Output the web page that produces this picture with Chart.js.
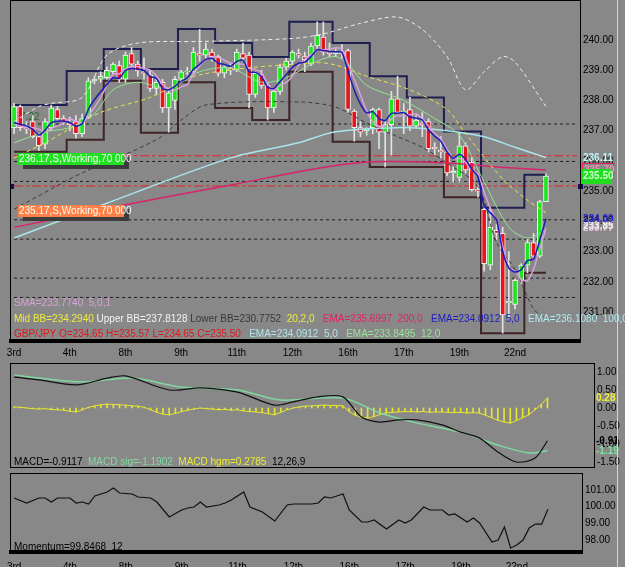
<!DOCTYPE html>
<html lang="en">
<head>
<meta charset="UTF-8">
<title>GBP/JPY</title>
<script src="https://cdn.jsdelivr.net/npm/chart.js"></script>
<style>
  body { margin: 0; background: #888888; }
  #wrap { position: relative; width: 625px; height: 567px; overflow: hidden; background: #888888; }
  canvas { position: absolute; left: 0; }
  #edge { position: absolute; left: 617px; top: 0; width: 1px; height: 567px; background: #d4d4d4; }
</style>
</head>
<body>
<div id="wrap">
  <canvas id="priceChart" width="625" height="360" style="top:0"></canvas>
  <canvas id="macdChart" width="625" height="108" style="top:362px"></canvas>
  <canvas id="momChart" width="625" height="95" style="top:472px"></canvas>
  <div id="edge"></div>
</div>
<script>
  // x axis day labels and where they sit (candle index)
  const dayTicks = ['3rd', '4th', '8th', '9th', '11th', '12th', '16th', '17th', '19th', '22nd'];
  const dayTickAt = [0, 9, 18, 27, 36, 45, 54, 63, 72, 81];

  // GBP/JPY candles
  const opens = [237.1, 237.8, 237.1, 237.3, 236.8, 236.55, 237.1, 237.7, 237.4, 237.25,
    237.3, 236.9, 237.45, 238.65, 238.7, 238.75, 238.95, 239.15, 238.7, 239.55,
    239.2, 238.95, 238.85, 238.4, 238.6, 237.75, 238.0, 238.7, 238.95, 238.95,
    239.55, 239.5, 239.6, 239.45, 238.9, 239.05, 239.0, 239.55, 239.5, 238.2,
    238.85, 238.5, 237.75, 238.3, 239.1, 239.3, 239.55, 239.45, 239.2, 239.8,
    240.1, 239.6, 239.55, 239.6, 239.65, 237.65, 237.1, 237.0, 237.1, 237.7,
    236.95, 237.2, 238.05, 237.6, 237.7, 237.15, 237.25, 237.3, 236.45, 236.35,
    236.3, 235.6, 235.45, 236.5, 235.95, 235.05, 234.4, 232.55, 233.7, 233.6,
    231.3, 231.25, 232.05, 232.55, 233.3, 232.85, 234.65];
  const highs = [237.9, 237.85, 237.3, 237.5, 236.9, 237.4, 237.85, 237.8, 237.5, 237.45,
    237.5, 237.55, 238.75, 238.8, 238.95, 239.1, 239.25, 239.3, 239.6, 239.75,
    239.3, 239.4, 239.0, 238.75, 238.7, 238.35, 238.8, 239.0, 239.1, 239.75,
    240.35, 239.9, 239.7, 239.5, 239.2, 239.2, 239.7, 239.9, 239.6, 238.95,
    239.0, 238.6, 238.4, 239.2, 239.4, 239.65, 239.7, 239.6, 239.9, 240.6,
    240.6, 239.9, 239.7, 239.85, 239.7, 237.7, 237.3, 237.1, 237.75, 237.75,
    237.3, 238.3, 238.8, 237.9, 238.1, 237.5, 237.6, 237.4, 236.6, 236.8,
    236.35, 235.8, 236.95, 236.6, 236.1, 235.2, 234.45, 234.45, 233.9, 233.8,
    233.0, 232.1, 232.6, 233.4, 233.6, 234.7, 235.57];
  const lows = [236.9, 237.0, 236.9, 236.75, 236.35, 236.4, 237.0, 237.3, 237.2, 237.0,
    236.75, 236.8, 237.4, 238.55, 238.6, 238.7, 238.85, 238.6, 238.6, 239.1,
    238.8, 238.7, 238.3, 238.2, 237.6, 236.95, 237.7, 238.6, 238.85, 238.9,
    239.3, 239.4, 239.3, 238.8, 238.75, 238.85, 238.95, 239.3, 237.75, 238.1,
    238.4, 237.35, 237.6, 238.2, 239.0, 239.2, 239.4, 238.95, 239.15, 239.7,
    239.5, 239.45, 239.45, 239.4, 237.6, 236.65, 236.8, 236.85, 236.9, 236.4,
    235.8, 236.2, 237.6, 236.9, 237.0, 237.1, 236.8, 236.3, 236.2, 236.1,
    235.5, 235.3, 235.3, 235.6, 235.0, 234.8, 232.35, 232.4, 233.4, 230.3,
    230.8, 231.1, 231.95, 232.3, 232.8, 232.8, 234.65];
  const closes = [237.8, 237.1, 237.05, 236.8, 236.5, 237.3, 237.75, 237.4, 237.3, 237.2,
    236.9, 237.4, 238.65, 238.7, 238.8, 239.0, 239.2, 238.7, 239.5, 239.2,
    238.98, 238.9, 238.4, 238.6, 237.75, 238.25, 238.7, 238.95, 238.97, 239.6,
    239.5, 239.7, 239.45, 238.9, 239.1, 239.0, 239.6, 239.4, 238.2, 238.9,
    238.5, 237.75, 238.3, 239.1, 239.3, 239.6, 239.5, 239.35, 239.8, 240.15,
    239.6, 239.55, 239.6, 239.55, 237.7, 237.1, 236.95, 237.05, 237.7, 236.95,
    237.2, 238.05, 237.6, 237.65, 237.15, 237.35, 237.2, 236.4, 236.4, 236.3,
    235.6, 235.65, 236.5, 235.7, 235.05, 235.0, 232.6, 233.8, 233.6, 230.9,
    231.35, 232.05, 232.55, 233.3, 232.85, 234.65, 235.5];

  // indicators
  const ema5 = [237.27, 237.21, 237.16, 237.04, 236.86, 237.01, 237.26, 237.31, 237.31, 237.27,
    237.15, 237.23, 237.7, 238.03, 238.29, 238.53, 238.75, 238.73, 238.99, 239.06,
    239.03, 238.99, 238.79, 238.73, 238.4, 238.35, 238.47, 238.63, 238.74, 239.03,
    239.19, 239.36, 239.39, 239.23, 239.19, 239.13, 239.29, 239.33, 238.95, 238.93,
    238.79, 238.44, 238.39, 238.63, 238.85, 239.1, 239.23, 239.27, 239.45, 239.68,
    239.65, 239.62, 239.61, 239.59, 238.96, 238.34, 237.88, 237.59, 237.63, 237.4,
    237.33, 237.57, 237.58, 237.6, 237.45, 237.42, 237.35, 237.03, 236.82, 236.65,
    236.3, 236.08, 236.22, 236.05, 235.72, 235.48, 234.52, 234.28, 234.05, 233.0,
    232.45, 232.32, 232.4, 232.7, 232.75, 233.38, 234.09];
  const sma5 = [237.2, 237.15, 237.1, 237.1, 237.05, 236.95, 237.08, 237.15, 237.25, 237.39,
    237.31, 237.24, 237.49, 237.77, 238.09, 238.51, 238.87, 238.88, 239.04, 239.12,
    239.12, 239.06, 239.0, 238.82, 238.53, 238.38, 238.34, 238.45, 238.52, 238.89,
    239.14, 239.34, 239.44, 239.43, 239.33, 239.23, 239.21, 239.2, 239.06, 239.02,
    238.92, 238.55, 238.33, 238.51, 238.59, 238.81, 239.16, 239.37, 239.51, 239.68,
    239.68, 239.69, 239.74, 239.69, 239.2, 238.7, 238.18, 237.66, 237.29, 237.14,
    237.16, 237.38, 237.5, 237.49, 237.53, 237.56, 237.39, 237.15, 236.9, 236.73,
    236.38, 236.07, 236.09, 235.95, 235.7, 235.58, 234.97, 234.43, 234.01, 233.18,
    232.45, 232.34, 232.09, 232.03, 232.42, 233.08, 233.77];
  const ema12Pts = [[0, 236.6], [5, 236.96], [9, 237.1], [13, 237.57], [16, 238.35], [20, 238.6],
    [25, 238.4], [30, 238.95], [35, 239.07], [40, 238.6], [44, 238.75], [49, 239.3], [52, 239.45],
    [54, 239.2], [57, 238.5], [63, 238.0], [68, 237.4], [72, 236.85], [76, 235.3], [80, 233.8],
    [83, 233.45], [86, 233.7]];
  const midBBPts = [[0, 236.1], [5, 236.6], [14, 237.6], [22, 238.1], [30, 238.85], [49, 239.25],
    [52, 239.17], [57, 238.8], [64, 238.35], [70, 237.7], [73, 236.9], [79, 235.4], [83, 234.7],
    [86, 234.29]];
  const upperBBPts = [[0, 237.3], [4, 237.8], [6, 237.9], [11, 238.1], [15, 239.5], [20, 239.9],
    [30, 239.95], [45, 240.05], [50, 240.2], [56, 240.55], [62, 240.76], [66, 240.35], [70, 239.45],
    [73, 238.35], [76, 238.95], [79, 239.45], [81, 239.27], [86, 237.8]];
  const lowerBBPts = [[0, 234.4], [9, 235.4], [11, 235.6], [23, 236.7], [27, 237.35], [31, 237.85],
    [46, 237.95], [52, 237.78], [57, 237.25], [62, 236.8], [66, 236.45], [70, 235.93], [75, 235.15],
    [78, 233.3], [81, 232.4], [84, 231.1], [86, 230.78]];
  const ema100Pts = [[0, 233.45], [15, 234.6], [35, 236.1], [46, 236.6], [52, 236.96], [62, 237.1],
    [70, 237.0], [76, 236.8], [81, 236.45], [86, 236.11]];
  const ema200Pts = [[0, 233.8], [18, 234.55], [35, 235.2], [49, 235.75], [58, 235.97], [70, 235.93],
    [78, 235.8], [86, 235.7]];

  // high / low boxes: [from, to, level]
  const highBoxes = [[0, 8, 237.85], [9, 14, 238.97], [15, 20, 239.7], [21, 26, 239.04], [27, 32, 240.36],
    [33, 38, 239.9], [39, 44, 239.44], [45, 51, 240.6], [52, 57, 239.9], [58, 63, 238.8], [64, 69, 238.1],
    [70, 75, 236.97], [76, 82, 234.45], [83, 86, 235.54]];
  const lowBoxes = [[0, 8, 236.3], [9, 14, 236.7], [15, 20, 238.65], [21, 26, 236.93], [27, 32, 238.6],
    [33, 38, 237.75], [39, 44, 237.35], [45, 51, 238.95], [52, 57, 236.63], [58, 69, 235.8],
    [70, 75, 234.8], [76, 82, 230.3], [83, 86, 232.3]];

  const blackLevels = [237.22, 235.98, 235.32, 234.05, 233.41, 232.12, 231.48];
  const orderLevels = [236.17, 235.17];
  const priceTicks = [231, 232, 233, 234, 235, 236, 237, 238, 239, 240];

  // MACD panel
  const macdPts = [[0, 0.86], [4, 0.78], [10, 0.64], [15, 0.83], [18, 0.89], [25, 0.5], [30, 0.56],
    [36, 0.44], [42, 0.08], [45, 0.17], [49, 0.31], [53, 0.31], [56, -0.25], [59, -0.39], [62, -0.33],
    [65, -0.33], [69, -0.47], [72, -0.67], [75, -0.83], [78, -1.22], [81, -1.5], [84, -1.39], [86, -0.91]];
  const signalPts = [[0, 0.92], [4, 0.83], [11, 0.72], [19, 0.83], [27, 0.58], [36, 0.5], [43, 0.22],
    [53, 0.28], [59, -0.14], [65, -0.42], [72, -0.67], [78, -1.03], [83, -1.25], [86, -1.19]];
  const histogram = [0.03, 0.02, 0.0, -0.02, -0.03, -0.02, -0.04, -0.05, -0.06, -0.09,
    -0.11, -0.05, 0.02, 0.06, 0.09, 0.11, 0.1, 0.09, 0.08, 0.06,
    0.05, 0.02, -0.05, -0.12, -0.17, -0.19, -0.15, -0.1, -0.06, -0.03,
    0.0, -0.02, -0.03, -0.05, -0.04, -0.06, -0.05, -0.08, -0.1, -0.11,
    -0.13, -0.16, -0.19, -0.12, -0.05, 0.0, 0.03, 0.05, 0.06, 0.07,
    0.08, 0.07, 0.07, 0.06, -0.1, -0.2, -0.26, -0.28, -0.24, -0.18,
    -0.14, -0.12, -0.11, -0.1, -0.1, -0.11, -0.1, -0.12, -0.11, -0.11,
    -0.12, -0.13, -0.12, -0.14, -0.13, -0.14, -0.2, -0.27, -0.34, -0.39,
    -0.42, -0.35, -0.27, -0.19, -0.05, 0.1, 0.28];
  const macdTicks = [1, 0.5, 0, -0.5, -1, -1.5];

  // Momentum panel
  const momentumPts = [[0, 100.52], [2, 100.22], [4, 100.52], [5, 100.52], [6, 100.28], [7, 100.52],
    [9, 100.52], [10, 100.22], [11, 100.28], [12, 100.16], [13, 100.64], [15, 100.88], [16, 101.12],
    [17, 100.82], [19, 100.76], [20, 100.58], [22, 100.52], [23, 100.28], [25, 99.38], [27, 99.8],
    [28, 99.92], [29, 99.98], [30, 100.28], [31, 99.98], [33, 100.1], [34, 100.22], [35, 100.4],
    [37, 100.88], [38, 99.98], [40, 99.68], [42, 99.14], [44, 100.1], [45, 100.16], [48, 100.16],
    [49, 100.22], [50, 100.58], [51, 100.52], [53, 100.76], [54, 99.8], [56, 99.08], [57, 99.08],
    [58, 99.2], [60, 98.66], [62, 99.2], [63, 99.02], [64, 99.2], [66, 99.98], [67, 99.8], [69, 99.8],
    [70, 99.5], [71, 99.56], [73, 99.08], [74, 99.32], [75, 99.02], [77, 97.88], [78, 98.0],
    [79, 98.78], [80, 97.52], [81, 97.7], [82, 98.0], [83, 98.72], [84, 98.96], [85, 98.95], [86, 99.85]];
  const momentumTicks = [98, 99, 100, 101];

  const FONT = '"Liberation Sans", Arial, sans-serif';
  const BG = '#888888';

  function makeLabels(n) {
    return Array.from({ length: n }, (_, i) => {
      const k = dayTickAt.indexOf(i);
      return k >= 0 ? dayTicks[k] : '';
    });
  }

  function fromPairs(pairs, n) {
    const arr = new Array(n).fill(null);
    pairs.forEach(([i, v]) => { arr[i] = v; });
    return arr;
  }

  function fromBoxes(boxes) {
    const arr = [];
    boxes.forEach(([a, b, v]) => { for (let i = a; i <= b; i++) arr[i] = v; });
    return arr;
  }

  function lineSet(data, color, width, order, extra) {
    return Object.assign({
      type: 'line', data: data, borderColor: color, borderWidth: width,
      pointRadius: 0, fill: false, spanGaps: true, tension: 0.3, order: order
    }, extra || {});
  }

  // no automatic padding from tick labels, the plot boxes are placed by hand
  function noPad(s) {
    s.paddingTop = 0; s.paddingBottom = 0; s.paddingLeft = 0; s.paddingRight = 0;
  }

  function rightAxis(min, max, ticks, width) {
    return {
      position: 'right', min: min, max: max,
      grid: { display: false, drawTicks: false },
      border: { display: true, color: '#000', width: 1 },
      ticks: { padding: 3, color: '#000', font: { family: FONT, size: 10 }, callback: v => v.toFixed(2) },
      afterBuildTicks: s => { s.ticks = ticks.map(v => ({ value: v })); },
      afterFit: s => { s.width = width; noPad(s); }
    };
  }

  function dayAxis(height, pad) {
    return {
      type: 'category', offset: true,
      grid: { display: false, drawTicks: false },
      border: { display: true, color: '#000', width: 4 },
      ticks: { autoSkip: false, maxRotation: 0, padding: pad, color: '#000', font: { family: FONT, size: 10 } },
      afterFit: s => { s.height = height; noPad(s); }
    };
  }

  const framePlugin = {
    id: 'frame',
    beforeDraw(chart) {
      const ctx = chart.ctx;
      ctx.save();
      ctx.fillStyle = BG;
      ctx.fillRect(0, 0, chart.width, chart.height);
      ctx.restore();
    },
    afterDraw(chart) {
      const { ctx, chartArea: a } = chart;
      ctx.save();
      ctx.strokeStyle = '#000';
      ctx.lineWidth = 1;
      ctx.strokeRect(a.left - 0.5, a.top - 0.5, a.right - a.left + 1, a.bottom - a.top + 1);
      ctx.restore();
    }
  };

  function drawRuns(ctx, x, y, runs) {
    runs.forEach(([text, color]) => {
      ctx.fillStyle = color;
      ctx.fillText(text, x, y);
      x += ctx.measureText(text).width;
    });
  }

  function baseOptions() {
    return {
      responsive: false, animation: false, devicePixelRatio: 1, events: [],
      plugins: { legend: { display: false }, tooltip: { enabled: false } }
    };
  }

  // ---------- price panel ----------
  const N_MAIN = 92;
  const mainLabels = makeLabels(N_MAIN);

  const priceText = {
    id: 'priceText',
    beforeDatasetsDraw(chart) {
      const ctx = chart.ctx, y = chart.scales.y;
      ctx.save();
      ctx.font = '10px ' + FONT;
      ctx.fillStyle = '#2b6a2b';
      ctx.textBaseline = 'bottom';
      ctx.fillText('237.22', 9, y.getPixelForValue(blackLevels[0]) - 2);
      ctx.restore();
    },
    afterDatasetsDraw(chart) {
      const ctx = chart.ctx, y = chart.scales.y;
      ctx.save();
      ctx.font = '10px ' + FONT;
      ctx.textBaseline = 'middle';

      // working orders
      const orders = [[orderLevels[0], '#22e022', -3], [orderLevels[1], '#ff8048', 19]];
      orders.forEach(([lvl, bg, dy]) => {
        const top = Math.round(y.getPixelForValue(lvl) + dy);
        ctx.fillStyle = '#3c3c3c';
        ctx.fillRect(23, top + 4, 106, 12);
        ctx.fillStyle = bg;
        ctx.fillRect(18, top, 106, 12);
        ctx.fillStyle = '#f4fff4';
        ctx.fillText(lvl.toFixed(2) + ',S,Working,70 000', 19, top + 6);
      });
      ctx.fillStyle = '#101060';
      const ly = Math.round(y.getPixelForValue(orderLevels[1]));
      ctx.fillRect(10, ly - 2, 4, 5);
      ctx.fillRect(578, ly - 2, 5, 5);

      // legend lines
      drawRuns(ctx, 14, 303, [['SMA=233.7740  5,0,1', '#d8a0d8']]);
      drawRuns(ctx, 14, 319, [['Mid BB=234.2940', '#ecec3c'], [' Upper BB=237.8128', '#f4f4f4'],
        [' Lower BB=230.7752', '#3a3a3a'], ['  20,2,0', '#ecec3c'], ['   EMA=235.6997  200,0', '#dc2468'],
        ['   EMA=234.0912  5,0', '#1c1cc0'], ['   EMA=236.1080  100,0', '#b0ecf0']]);
      drawRuns(ctx, 14, 334, [['GBP/JPY O=234.65 H=235.57 L=234.65 C=235.50', '#e01818'],
        ['   EMA=234.0912  5,0', '#b0e4ec'], ['   EMA=233.8495  12,0', '#98e498']]);

      // right side value tags
      ctx.font = 'bold 10px ' + FONT;
      const py = v => Math.round(y.getPixelForValue(v));
      ctx.strokeStyle = '#e02060';
      ctx.strokeRect(582.5, py(235.70) - 6.5, 31, 12);
      ctx.fillStyle = '#e890b0';
      ctx.fillText('235.70', 584, py(235.70));
      ctx.fillStyle = '#22dc22';
      ctx.fillRect(582, py(235.50) - 7, 30, 15);
      ctx.fillStyle = '#c8ffc8';
      ctx.fillText('235.50', 583, py(235.50));
      ctx.fillStyle = '#c4f6f6';
      ctx.fillText('236.11', 583, py(236.11));
      ctx.fillStyle = '#e8c0e8';
      ctx.fillText('233.77', 583, py(233.77));
      ctx.fillStyle = '#f0f0f0';
      ctx.fillText('233.85', 583, py(233.85));
      ctx.fillStyle = '#1c1cd0';
      ctx.fillText('234.09', 583, py(234.09));
      ctx.restore();
    }
  };

  const priceDatasets = [];
  blackLevels.forEach(lvl => priceDatasets.push(lineSet(mainLabels.map(() => lvl), '#1c1c1c', 1, 30,
    { borderDash: [3, 3], tension: 0 })));
  orderLevels.forEach(lvl => priceDatasets.push(lineSet(mainLabels.map(() => lvl), '#e02424', 1, 30,
    { borderDash: [9, 3, 3, 3], tension: 0 })));
  priceDatasets.push(lineSet(fromBoxes(highBoxes), '#1e1e52', 2, 25, { stepped: 'middle', tension: 0 }));
  priceDatasets.push(lineSet(fromBoxes(lowBoxes), '#3e2424', 2, 25, { stepped: 'middle', tension: 0 }));
  priceDatasets.push({
    type: 'bar', data: lows.map((l, i) => [l, highs[i]]), backgroundColor: '#e2e2e2',
    barThickness: 1, grouped: false, order: 20
  });
  priceDatasets.push({
    type: 'bar', data: opens.map((o, i) => [o, closes[i]]),
    backgroundColor: opens.map((o, i) => closes[i] >= o ? '#1ee61e' : '#e8141c'),
    borderColor: '#f4f4f4', borderWidth: 1, borderSkipped: false,
    barThickness: 5, grouped: false, order: 19
  });
  priceDatasets.push(lineSet(fromPairs(ema200Pts, 87), '#d8246c', 1.5, 12));
  priceDatasets.push(lineSet(fromPairs(ema100Pts, 87), '#a8e6ec', 1.5, 12));
  priceDatasets.push(lineSet(fromPairs(lowerBBPts, 87), '#3c3c3c', 1, 10, { borderDash: [4, 3] }));
  priceDatasets.push(lineSet(fromPairs(upperBBPts, 87), '#eeeeee', 1, 10, { borderDash: [4, 3] }));
  priceDatasets.push(lineSet(fromPairs(midBBPts, 87), '#e6e64a', 1, 10, { borderDash: [4, 3] }));
  priceDatasets.push(lineSet(fromPairs(ema12Pts, 87), '#96e296', 1, 6));
  priceDatasets.push(lineSet(sma5, '#dca0dc', 1.5, 5, { tension: 0.2 }));
  priceDatasets.push(lineSet(ema5, '#1c1cb4', 1.5, 4, { tension: 0.2 }));

  const priceOpts = baseOptions();
  priceOpts.layout = { padding: { left: 11, top: 1, right: 0, bottom: 0 } };
  priceOpts.scales = {
    x: dayAxis(19, 6),
    y: rightAxis(230.04, 241.29, priceTicks, 45)
  };

  new Chart(document.getElementById('priceChart'), {
    data: { labels: mainLabels, datasets: priceDatasets },
    options: priceOpts,
    plugins: [framePlugin, priceText]
  });

  // ---------- MACD panel ----------
  const N_MACD = 94;
  const macdText = {
    id: 'macdText',
    afterDatasetsDraw(chart) {
      const ctx = chart.ctx, y = chart.scales.y;
      ctx.save();
      ctx.font = '10px ' + FONT;
      ctx.textBaseline = 'middle';
      drawRuns(ctx, 14, 100, [['MACD=-0.9117', '#000'], ['  MACD sig=-1.1902', '#80dca0'],
        ['  MACD hgm=0.2785', '#ecec30'], ['  12,26,9', '#000']]);
      ctx.font = 'bold 10px ' + FONT;
      ctx.fillStyle = '#000';
      ctx.fillText('-0.91', 596, y.getPixelForValue(-0.91));
      ctx.fillStyle = '#f0f030';
      ctx.fillText('0.28', 596, y.getPixelForValue(0.28));
      ctx.fillStyle = '#80e0a0';
      ctx.fillText('-1.19', 596, y.getPixelForValue(-1.19));
      ctx.restore();
    }
  };

  const macdOpts = baseOptions();
  macdOpts.layout = { padding: { left: 11, top: 2, right: 0, bottom: 3 } };
  macdOpts.scales = {
    x: { type: 'category', offset: true, display: false },
    y: rightAxis(-1.639, 1.222, macdTicks, 31)
  };

  new Chart(document.getElementById('macdChart'), {
    data: {
      labels: makeLabels(N_MACD),
      datasets: [
        { type: 'bar', data: histogram, backgroundColor: '#e6e630', barThickness: 1, grouped: false, order: 5 },
        lineSet(histogram, '#e6e630', 1, 4, { tension: 0 }),
        lineSet(fromPairs(signalPts, 87), '#80d8a0', 1.5, 3),
        lineSet(fromPairs(macdPts, 87), '#111111', 1.2, 2)
      ]
    },
    options: macdOpts,
    plugins: [framePlugin, macdText]
  });

  // ---------- Momentum panel ----------
  const N_MOM = 92;
  const momText = {
    id: 'momText',
    afterDatasetsDraw(chart) {
      const ctx = chart.ctx;
      ctx.save();
      ctx.font = '10px ' + FONT;
      ctx.textBaseline = 'middle';
      drawRuns(ctx, 14, 75, [['Momentum=99.8468  12', '#000']]);
      ctx.restore();
    }
  };

  const momOpts = baseOptions();
  momOpts.layout = { padding: { left: 11, top: 2, right: 0, bottom: 0 } };
  momOpts.scales = {
    x: dayAxis(15, 9),
    y: rightAxis(97.28, 101.96, momentumTicks, 43)
  };

  new Chart(document.getElementById('momChart'), {
    data: {
      labels: makeLabels(N_MOM),
      datasets: [lineSet(fromPairs(momentumPts, 87), '#111111', 1.2, 1, { tension: 0 })]
    },
    options: momOpts,
    plugins: [framePlugin, momText]
  });
</script>
</body>
</html>
